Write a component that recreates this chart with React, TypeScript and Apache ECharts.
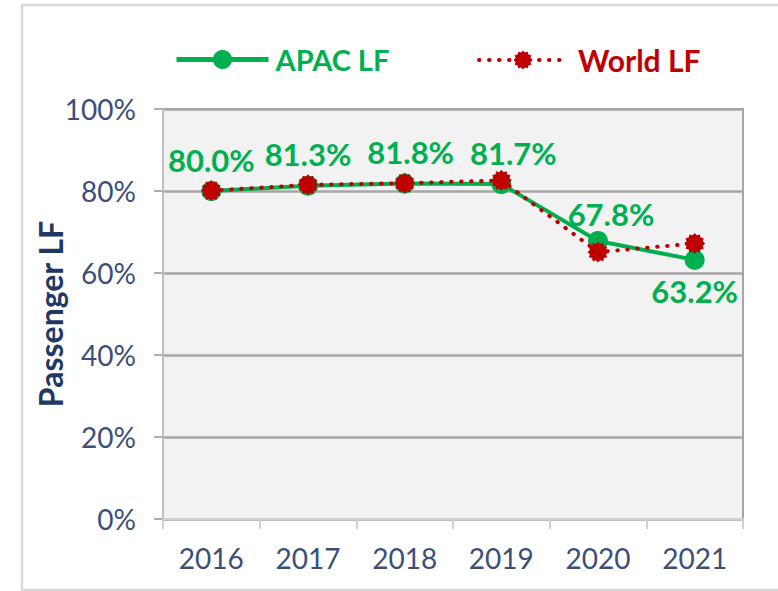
import React, { useEffect, useRef } from "react";
import * as echarts from "echarts";

const years = ["2016", "2017", "2018", "2019", "2020", "2021"];
const apacLF = [0.8, 0.813, 0.818, 0.817, 0.678, 0.632];
const worldLF = [0.801, 0.815, 0.819, 0.826, 0.651, 0.672];
const yTicks = { min: 0, max: 1, interval: 0.2 };
const seriesNames = ["APAC LF", "World LF"];

const GREEN = "#00b050";
const RED = "#c00000";
const NAVY = "#3b4f7a";
const FONT = "Lato, 'Open Sans', sans-serif";

function burstPath(points: number, outer: number, inner: number): string {
  const parts: string[] = [];
  const n = points * 2;
  for (let i = 0; i < n; i++) {
    const r = i % 2 === 0 ? outer : inner;
    const a = (Math.PI * 2 * i) / n - Math.PI / 2;
    const x = (50 + r * Math.cos(a)).toFixed(2);
    const y = (50 + r * Math.sin(a)).toFixed(2);
    parts.push((i === 0 ? "M" : "L") + x + " " + y);
  }
  return "path://" + parts.join(" ") + " Z";
}

export default function App() {
  const ref = useRef<HTMLDivElement>(null);
  useEffect(() => {
    if (!ref.current) return;
    const chart = echarts.init(ref.current, null, { renderer: "svg" });
    const burst = burstPath(12, 50, 40);
    const pct = (v: number) => (v * 100).toFixed(1) + "%";
    const apacData = apacLF.map((v, i) => {
      const item: any = { value: v };
      if (i === 2) item.label = { offset: [6, 0] };
      if (i === 3) item.label = { offset: [12, 0] };
      if (i === 4) item.label = { position: "top", distance: 2, offset: [13, 0] };
      if (i === 5) item.label = { position: "bottom", distance: 6 };
      return item;
    });
    chart.setOption({
      animation: false,
      backgroundColor: "#ffffff",
      graphic: [
        {
          type: "rect",
          z: -10,
          shape: { x: 22, y: 5, width: 800, height: 585 },
          style: { fill: "#ffffff", stroke: "#d9d9d9", lineWidth: 2.5 },
        },
      ],
      legend: [
        {
          data: [seriesNames[0]],
          left: 169,
          top: 40,
          itemWidth: 92,
          itemHeight: 24,
          itemGap: 0,
          lineStyle: { width: 5 },
          textStyle: { color: GREEN, fontFamily: FONT, fontWeight: "bold", fontSize: 29, padding: [0, 0, 0, 2] },
        },
        {
          data: [seriesNames[1]],
          left: 472,
          top: 40,
          itemWidth: 88,
          itemHeight: 24,
          itemGap: 0,
          lineStyle: { width: 4 },
          textStyle: { color: RED, fontFamily: FONT, fontWeight: "bold", fontSize: 30, padding: [0, 0, 0, 6] },
        },
      ],
      grid: {
        left: 163,
        right: 35,
        top: 109,
        bottom: 72,
        show: true,
        backgroundColor: "#f2f2f2",
        borderColor: "#a6a6a6",
        borderWidth: 2,
      },
      xAxis: {
        type: "category",
        data: years,
        boundaryGap: true,
        axisLine: { show: true, lineStyle: { color: "#d0d0d0", width: 2 } },
        axisTick: { show: true, length: 10, lineStyle: { color: "#d0d0d0", width: 2 } },
        axisLabel: { color: NAVY, fontFamily: FONT, fontSize: 28, margin: 25 },
        splitLine: { show: false },
      },
      yAxis: {
        type: "value",
        min: yTicks.min,
        max: yTicks.max,
        interval: yTicks.interval,
        name: "Passenger LF",
        nameLocation: "middle",
        nameRotate: 90,
        nameGap: 113,
        nameMoveOverlap: false,
        nameTextStyle: { color: "#1f3864", fontFamily: FONT, fontWeight: "bold", fontSize: 32, verticalAlign: "middle" },
        axisLine: { show: true, lineStyle: { color: "#c0c0c0", width: 2 } },
        axisTick: { show: true, inside: false, length: 9, lineStyle: { color: "#b0b0b0", width: 2 } },
        axisLabel: {
          color: NAVY,
          fontFamily: FONT,
          fontSize: 28,
          margin: 27,
          formatter: (v: number) => Math.round(v * 100) + "%",
        },
        splitLine: { show: true, lineStyle: { color: "#a6a6a6", width: 2.5 } },
      },
      series: [
        {
          name: seriesNames[0],
          type: "line",
          data: apacData,
          symbol: "circle",
          symbolSize: 20,
          itemStyle: { color: GREEN },
          lineStyle: { color: GREEN, width: 4 },
          z: 2,
          label: {
            show: true,
            position: "top",
            distance: 6,
            color: GREEN,
            fontFamily: FONT,
            fontWeight: "bold",
            fontSize: 31,
            formatter: (p: any) => pct(p.value),
          },
        },
        {
          name: seriesNames[1],
          type: "line",
          data: worldLF,
          symbol: burst,
          symbolSize: 21,
          itemStyle: { color: RED },
          lineStyle: { color: RED, width: 4, type: [0.5, 9.5], cap: "round" },
          z: 3,
        },
      ],
    });
    return () => chart.dispose();
  }, []);
  return (
    <div
      ref={ref}
      style={{ position: "fixed", left: 0, top: 0, width: 778, height: 591 }}
    />
  );
}
